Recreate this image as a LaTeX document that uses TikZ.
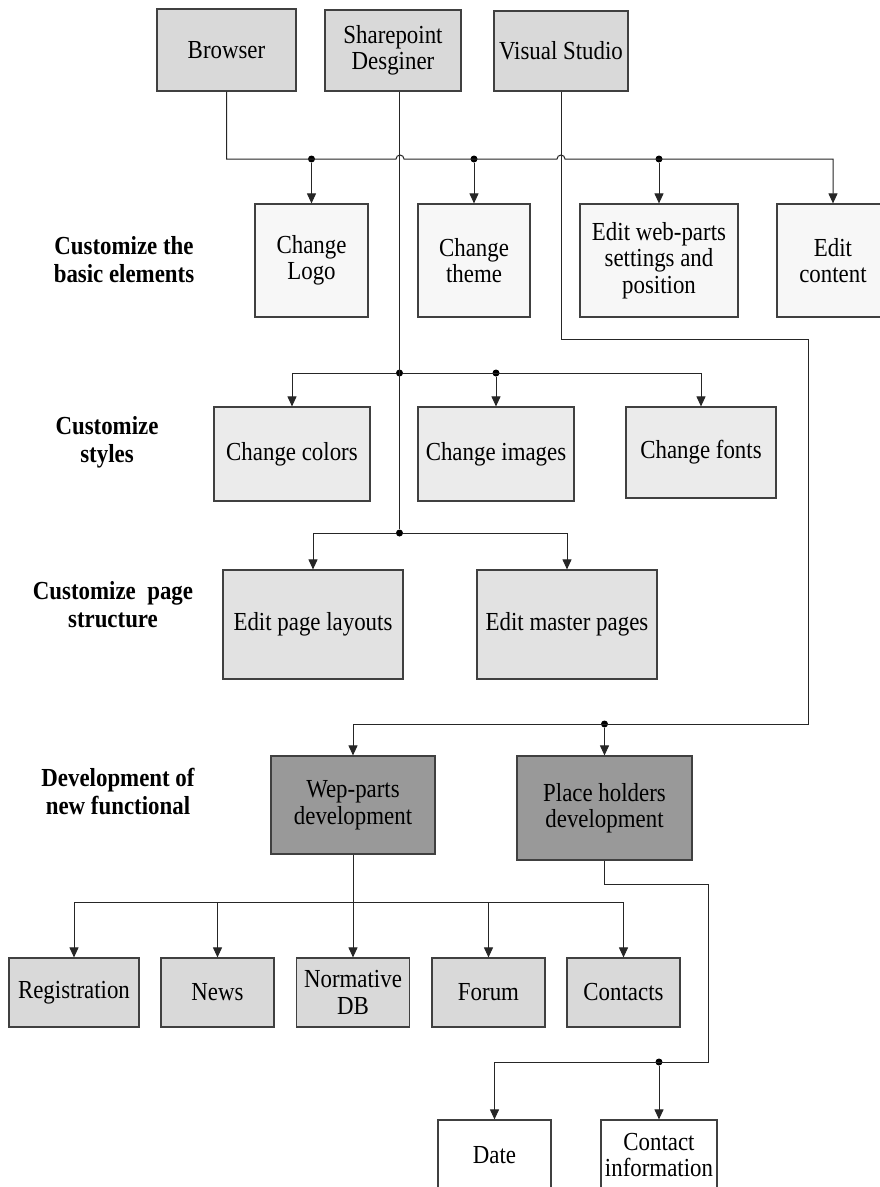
\documentclass[tikz,border=0pt]{standalone}
\usepackage{fontspec}
\setmainfont{Liberation Serif}[FakeStretch=0.88]
\usetikzlibrary{arrows.meta}
\definecolor{boxline}{HTML}{404040}
\definecolor{toolfill}{HTML}{D9D9D9}
\definecolor{basicfill}{HTML}{F7F7F7}
\definecolor{stylefill}{HTML}{EBEBEB}
\definecolor{pagefill}{HTML}{E2E2E2}
\definecolor{devfill}{HTML}{999999}
\tikzset{
  box/.style={draw=boxline, line width=1.2pt, align=center, inner sep=2pt,
    font=\fontsize{26}{26.5}\selectfont},
  lvl/.style={align=center, font=\fontsize{26}{28}\selectfont\bfseries},
  conn/.style={draw=black!85, line width=1pt},
  arr/.style={conn, -{Triangle[length=10pt,width=9pt]}},
  jdot/.style={circle, fill=black, inner sep=0pt, minimum size=7pt},
}
\begin{document}
\begin{tikzpicture}[x=1pt,y=-1pt]
  \fill[white] (0,0) rectangle (880,1187);
  \useasboundingbox (0,0) rectangle (880,1187);

  \node[box, fill=toolfill, minimum width=139pt, minimum height=82pt] (browser) at (226.5,50) {Browser};
  \node[box, fill=toolfill, minimum width=136pt, minimum height=81pt] (sp) at (393,50.5) {Sharepoint\\Desginer};
  \node[box, fill=toolfill, minimum width=134pt, minimum height=80pt] (vs) at (561,51) {Visual Studio};

  \node[lvl] (l1) at (124,260) {Customize the\\basic elements};
  \node[box, fill=basicfill, minimum width=113pt, minimum height=113pt] (logo) at (311.5,260.5) {Change\\Logo};
  \node[box, fill=basicfill, minimum width=112pt, minimum height=113pt] (theme) at (474,260.5) {Change\\theme};
  \node[box, fill=basicfill, minimum width=158pt, minimum height=113pt] (webparts) at (659,260.5) {Edit web-parts\\settings and\\position};
  \node[box, fill=basicfill, minimum width=112pt, minimum height=113pt] (content) at (833,260.5) {Edit\\content};

  \node[lvl] (l2) at (107,442) {Customize\\styles};
  \node[box, fill=stylefill, minimum width=156pt, minimum height=94pt] (colors) at (292,454) {Change colors};
  \node[box, fill=stylefill, minimum width=156pt, minimum height=94pt] (images) at (496,454) {Change images};
  \node[box, fill=stylefill, minimum width=150pt, minimum height=91pt] (fonts) at (701,452.5) {Change fonts};

  \node[lvl] (l3) at (113,605) {Customize~ page\\structure};
  \node[box, fill=pagefill, minimum width=180pt, minimum height=109pt] (layouts) at (313,624.5) {Edit page layouts};
  \node[box, fill=pagefill, minimum width=180pt, minimum height=109pt] (master) at (567,624.5) {Edit master pages};

  \node[lvl] (l4) at (118,791) {Development of\\new functional};
  \node[box, fill=devfill, minimum width=164pt, minimum height=98pt] (wep) at (353,805) {Wep-parts\\development};
  \node[box, fill=devfill, minimum width=175pt, minimum height=104pt] (place) at (604.5,808) {Place holders\\development};

  \node[box, fill=toolfill, minimum width=130pt, minimum height=69pt] (reg) at (74,992.5) {Registration};
  \node[box, fill=toolfill, minimum width=113pt, minimum height=69pt] (news) at (217.5,992.5) {News};
  \node[box, fill=toolfill, minimum width=113pt, minimum height=69pt] (normdb) at (353,992.5) {Normative\\DB};
  \node[box, fill=toolfill, minimum width=113pt, minimum height=69pt] (forum) at (488.5,992.5) {Forum};
  \node[box, fill=toolfill, minimum width=113pt, minimum height=69pt] (contacts) at (623.5,992.5) {Contacts};

  \node[box, fill=white, minimum width=113pt, minimum height=70pt] (date) at (494.5,1155) {Date};
  \node[box, fill=white, minimum width=116pt, minimum height=70pt] (info) at (659,1155) {Contact\\information};

  \coordinate (bh1) at (396,159);
  \coordinate (bh2) at (557,159);
  \node[jdot] (d1) at (logo.north |- bh1) {};
  \node[jdot] (d2) at (theme.north |- bh1) {};
  \node[jdot] (d3) at (webparts.north |- bh1) {};
  \node[jdot] (d4) at (399.5,373) {};
  \node[jdot] (d5) at (399.5,533) {};
  \node[jdot] (d6) at (images.north |- d4) {};
  \coordinate (vs1) at (808,339);
  \coordinate (vs2) at (808,724);
  \node[jdot] (d7) at (place.north |- vs2) {};
  \coordinate (wb) at (353,902);
  \coordinate (ph1) at (708,884);
  \coordinate (ph2) at (708,1062);
  \node[jdot] (d8) at (info.north |- ph2) {};

  \begin{scope}
    \draw[arr] (browser.south) |- (bh1) arc[start angle=180,end angle=0,radius=4pt]
      -- (bh2) arc[start angle=180,end angle=0,radius=4pt] -- (content.north |- bh1) -- (content.north);
    \draw[arr] (d1) -- (logo.north);
    \draw[arr] (d2) -- (theme.north);
    \draw[arr] (d3) -- (webparts.north);
    \draw[conn] (sp.south -| d4) -- (d5);
    \draw[arr] (d4) -| (colors.north);
    \draw[arr] (d4) -| (fonts.north);
    \draw[arr] (d6) -- (images.north);
    \draw[arr] (d5) -| (layouts.north);
    \draw[arr] (d5) -| (master.north);
    \draw[arr] (vs.south) |- (vs1) -- (vs2) -| (wep.north);
    \draw[arr] (d7) -- (place.north);
    \draw[arr] (wep.south) -- (normdb.north);
    \draw[arr] (wb) -| (reg.north);
    \draw[arr] (wb) -| (contacts.north);
    \draw[arr] (wb -| news.north) -- (news.north);
    \draw[arr] (wb -| forum.north) -- (forum.north);
    \draw[arr] (place.south) |- (ph1) -- (ph2) -| (date.north);
    \draw[arr] (d8) -- (info.north);
  \end{scope}
\end{tikzpicture}
\end{document}
